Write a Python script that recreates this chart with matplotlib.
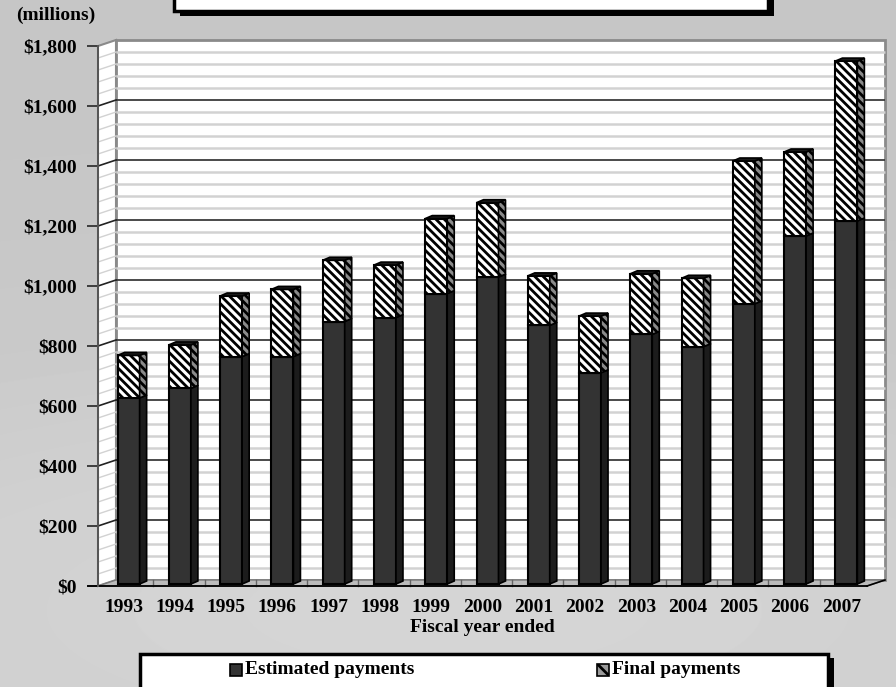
import numpy as np
import matplotlib.pyplot as plt
from matplotlib.patches import Polygon, Rectangle
from matplotlib.ticker import FuncFormatter

plt.rcParams['font.family'] = ['Liberation Serif', 'DejaVu Serif']
plt.rcParams['font.weight'] = 'bold'
plt.rcParams['hatch.linewidth'] = 2.0

# values ($ millions)
years = ['1993', '1994', '1995', '1996', '1997', '1998', '1999', '2000',
         '2001', '2002', '2003', '2004', '2005', '2006', '2007']
estimated = [620, 652, 758, 758, 875, 888, 968, 1023, 862, 704, 832, 791, 934, 1160, 1210]
final = [142, 145, 202, 224, 204, 175, 250, 248, 165, 189, 202, 228, 476, 280, 533]

W, H = 896, 687
fig = plt.figure(figsize=(W / 100, H / 100), dpi=100)

# gray gradient background
bg = fig.add_axes([0, 0, 1, 1], zorder=-10)
yy, xx = np.mgrid[0:H, 0:W]
shade = 0.775 + 0.06 * np.exp(-((yy - 610) / 260.0) ** 2) * np.exp(-((xx - 448) / 900.0) ** 2)
bg.imshow(shade, cmap='gray', vmin=0, vmax=1, aspect='auto', interpolation='bilinear')
bg.axis('off')

def fx(px):
    return px / W

def fy(py):
    return 1 - py / H

# front plane of the 3-D box
FL, FR, FB, FT = 98, 867, 586, 46
ax = fig.add_axes([fx(FL), fy(FB), (FR - FL) / W, (FB - FT) / H])
ax.set_xlim(-0.5, 14.5)
ax.set_ylim(0, 1800)
ax.patch.set_visible(False)
for s in ax.spines.values():
    s.set_visible(False)

ux = 15 / (FR - FL)      # data units per pixel
uy = 1800 / (FB - FT)
wdx, wdy = 18 * ux, 6 * uy   # wall depth
x0, x1 = -0.5, 14.5

# back wall
ax.add_patch(Rectangle((x0 + wdx, wdy), 15, 1800, facecolor='white',
                       edgecolor='#8a8a8a', lw=2, zorder=1, clip_on=False))
# left wall
ax.add_patch(Polygon([(x0, 0), (x0 + wdx, wdy), (x0 + wdx, 1800 + wdy), (x0, 1800)],
                     facecolor='white', edgecolor='#8a8a8a', lw=1.5, zorder=1, clip_on=False))
for v in range(0, 1801, 40):
    major = v % 200 == 0
    c = '#3c3c3c' if major else '#d2d2d2'
    lw = 1.3 if major else 1.8
    if 0 < v < 1800:
        ax.plot([x0 + wdx, x1 + wdx], [v + wdy, v + wdy], color=c, lw=lw,
                zorder=2, clip_on=False, solid_capstyle='butt')
        ax.plot([x0, x0 + wdx], [v, v + wdy], color='#222222' if major else '#d2d2d2',
                lw=1.2 if major else 1.0, zorder=2, clip_on=False)

# floor
ax.add_patch(Polygon([(x0, 0), (x1, 0), (x1 + wdx, wdy), (x0 + wdx, wdy)],
                     facecolor='#bcbcbc', edgecolor='#7a7a7a', lw=1, zorder=2, clip_on=False))
for k in range(1, 15):
    ax.plot([x0 + k + 4 * ux, x0 + k + 4 * ux], [0, wdy], color='#666666', lw=1,
            zorder=2, clip_on=False)
ax.plot([x0 - 10 * ux, x1], [0, 0], color='black', lw=1.3, zorder=3, clip_on=False)
ax.plot([x1, x1 + wdx], [0, wdy], color='black', lw=1.2, zorder=3, clip_on=False)
ax.plot([x0, x0], [0, 1800], color='#555555', lw=1.4, zorder=3, clip_on=False)

# bars
bx = np.arange(len(years)) + 5 * ux
bw = 22 * ux
b0 = 2 * uy
ddx, ddy = 7 * ux, 3 * uy
est = np.array(estimated)
fin = np.array(final)
hatch = '\\\\\\\\'

ax.bar(bx, est, width=bw, bottom=b0, color='#333333', edgecolor='black', lw=1.5,
       zorder=5, clip_on=False)
ax.bar(bx, fin, width=bw, bottom=b0 + est, color='white', edgecolor='black', lw=1.5,
       hatch=hatch, zorder=5, clip_on=False)

for i in range(len(years)):
    xr = bx[i] + bw / 2
    xl = bx[i] - bw / 2
    e_top = b0 + est[i]
    t_top = e_top + fin[i]
    ax.add_patch(Polygon([(xr, b0), (xr + ddx, b0 + ddy), (xr + ddx, e_top + ddy), (xr, e_top)],
                         facecolor='#1c1c1c', edgecolor='black', lw=1.2, zorder=5, clip_on=False))
    ax.add_patch(Polygon([(xr, e_top), (xr + ddx, e_top + ddy), (xr + ddx, t_top + ddy), (xr, t_top)],
                         facecolor='#8a8a8a', edgecolor='black', hatch=hatch, lw=1.2,
                         zorder=5, clip_on=False))
    ax.add_patch(Polygon([(xl, t_top), (xr, t_top), (xr + ddx, t_top + ddy), (xl + ddx, t_top + ddy)],
                         facecolor='#1a1a1a', edgecolor='black', lw=1.2, zorder=6, clip_on=False))

# ticks and labels
ax.set_yticks(range(0, 1801, 200))
ax.yaxis.set_major_formatter(FuncFormatter(lambda v, p: f'${int(v):,}'))
ax.tick_params(axis='y', length=8, width=1.3, pad=7, labelsize=14, color='#333333')
ax.set_xticks(np.arange(len(years)))
ax.set_xticklabels(years)
ax.tick_params(axis='x', length=0, pad=9, labelsize=14)
for lab in ax.get_xticklabels() + ax.get_yticklabels():
    lab.set_fontweight('bold')

fig.text(fx(482), fy(627), 'Fiscal year ended', ha='center', va='center',
         fontsize=14, fontweight='bold')
fig.text(fx(16), fy(15), '(millions)', ha='left', va='center', fontsize=14,
         fontweight='bold')

# title box (cut off at the top of the picture)
fig.patches.append(Rectangle((fx(180), fy(16)), fx(774) - fx(180), 0.2,
                             transform=fig.transFigure, facecolor='black',
                             edgecolor='none', zorder=1))
fig.patches.append(Rectangle((fx(174), fy(11)), fx(768) - fx(174), 0.2,
                             transform=fig.transFigure, facecolor='white',
                             edgecolor='black', lw=2.5, zorder=2))

# legend box
fig.patches.append(Rectangle((fx(146), fy(700)), fx(834) - fx(146), fy(658) - fy(700),
                             transform=fig.transFigure, facecolor='black',
                             edgecolor='none', zorder=1))
fig.patches.append(Rectangle((fx(140), fy(700)), fx(828) - fx(140), fy(654) - fy(700),
                             transform=fig.transFigure, facecolor='white',
                             edgecolor='black', lw=2.5, zorder=2))
fig.patches.append(Rectangle((fx(230), fy(676)), 12 / W, 12 / H, transform=fig.transFigure,
                             facecolor='#333333', edgecolor='black', lw=1.2, zorder=3))
fig.patches.append(Rectangle((fx(597), fy(676)), 12 / W, 12 / H, transform=fig.transFigure,
                             facecolor='#9a9a9a', edgecolor='black', hatch='\\\\', lw=1.2,
                             zorder=3))
fig.text(fx(245), fy(669), 'Estimated payments', ha='left', va='center', fontsize=14,
         fontweight='bold', zorder=4)
fig.text(fx(612), fy(669), 'Final payments', ha='left', va='center', fontsize=14,
         fontweight='bold', zorder=4)

fig.savefig('out.png', dpi=100)
